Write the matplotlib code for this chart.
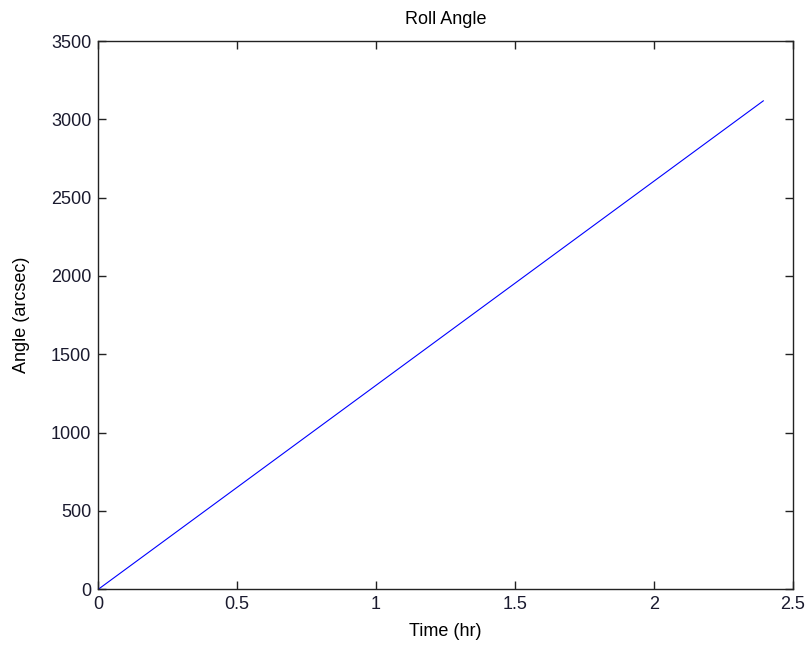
import numpy as np
import matplotlib
matplotlib.use("Agg")
import matplotlib.pyplot as plt

time_hr = [0.0, 2.394]
angle_arcsec = [0.0, 3118.0]

xticks = [0, 0.5, 1, 1.5, 2, 2.5]
xlabels = ['0', '0.5', '1', '1.5', '2', '2.5']
yticks = [0, 500, 1000, 1500, 2000, 2500, 3000, 3500]

plt.rcParams['font.family'] = ['Liberation Sans', 'DejaVu Sans']
plt.rcParams['font.size'] = 13

fig = plt.figure(figsize=(8.09, 6.49), dpi=100)
ax = fig.add_axes([0.1215, 0.092, 0.8584, 0.8448])

ax.plot(time_hr, angle_arcsec, color='blue', linewidth=0.8)

ax.set_xlim(0, 2.5)
ax.set_ylim(0, 3500)
ax.set_xticks(xticks)
ax.set_xticklabels(xlabels)
ax.set_yticks(yticks)
ax.tick_params(direction='in', top=True, right=True, length=6, width=1,
               labelsize=13, pad=5, colors='#222222', labelcolor='#1a1a2e')
for s in ax.spines.values():
    s.set_linewidth(1)
    s.set_color('#222222')

ax.set_title('Roll Angle', fontsize=13, pad=12)
ax.set_xlabel('Time (hr)', fontsize=13, labelpad=7)
ax.set_ylabel('Angle (arcsec)', fontsize=13, labelpad=15)

fig.savefig('out.png', dpi=100)
